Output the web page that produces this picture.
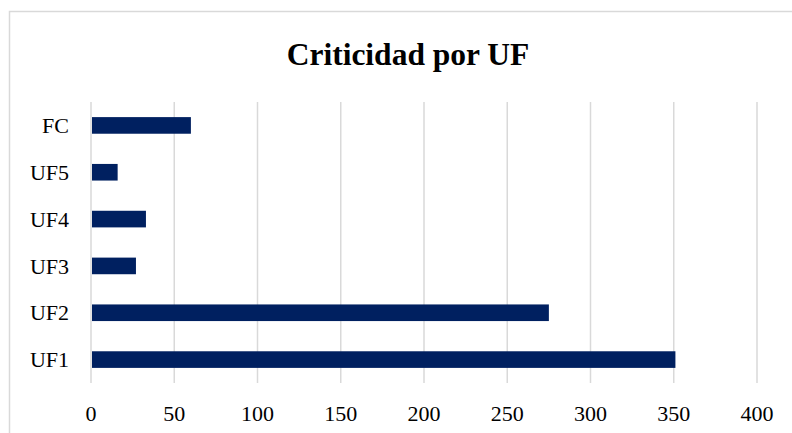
<!DOCTYPE html>
<html>
<head>
<meta charset="utf-8">
<script src="https://cdn.jsdelivr.net/npm/d3@7"></script>
<style>
  body { margin: 0; background: #fff; }
  svg { display: block; font-family: "Liberation Serif", "Times New Roman", serif; }
</style>
</head>
<body>
<div id="chart"></div>
<script>
// chart data
const categories = ["FC", "UF5", "UF4", "UF3", "UF2", "UF1"];
const values = [60, 16, 33, 27, 275, 351];
const xTicks = [0, 50, 100, 150, 200, 250, 300, 350, 400];
const title = "Criticidad por UF";

const width = 792;
const height = 433;
const margin = { top: 102, right: 35, bottom: 50, left: 91 };

const svg = d3
  .select("#chart")
  .append("svg")
  .attr("width", width)
  .attr("height", height);

// outer chart border (only top/left visible, rest runs off the page)
svg
  .append("rect")
  .attr("x", 9.5)
  .attr("y", 11.5)
  .attr("width", width + 20)
  .attr("height", height + 20)
  .attr("fill", "none")
  .attr("stroke", "#d9d9d9")
  .attr("stroke-width", 1.5);

const x = d3
  .scaleLinear()
  .domain([0, 400])
  .range([margin.left, 757]);

const y = d3
  .scaleBand()
  .domain(categories)
  .range([margin.top, height - margin.bottom])
  .paddingInner(0.645)
  .paddingOuter(0.3225);

// vertical gridlines
svg
  .append("g")
  .selectAll("line")
  .data(xTicks)
  .enter()
  .append("line")
  .attr("x1", d => x(d))
  .attr("x2", d => x(d))
  .attr("y1", margin.top)
  .attr("y2", height - margin.bottom)
  .attr("stroke", "#d9d9d9")
  .attr("stroke-width", 1.5);

// bars
svg
  .append("g")
  .selectAll("rect")
  .data(categories)
  .enter()
  .append("rect")
  .attr("x", x(0) + 1)
  .attr("y", d => y(d))
  .attr("width", (d, i) => x(values[i]) - x(0) - 1)
  .attr("height", y.bandwidth())
  .attr("fill", "#002060");

// x tick labels
svg
  .append("g")
  .selectAll("text")
  .data(xTicks)
  .enter()
  .append("text")
  .attr("x", d => x(d))
  .attr("y", 421)
  .attr("text-anchor", "middle")
  .style("font-size", "22px")
  .attr("fill", "#000")
  .text(d => d);

// category labels
svg
  .append("g")
  .selectAll("text")
  .data(categories)
  .enter()
  .append("text")
  .attr("x", 69)
  .attr("y", d => y(d) + y.bandwidth() / 2)
  .attr("dy", "0.35em")
  .attr("text-anchor", "end")
  .style("font-size", "22px")
  .attr("fill", "#000")
  .text(d => d);

// title
svg
  .append("text")
  .attr("x", 408)
  .attr("y", 65)
  .attr("text-anchor", "middle")
  .style("font-size", "31.5px")
  .style("font-weight", "bold")
  .attr("fill", "#000")
  .text(title);
</script>
</body>
</html>
